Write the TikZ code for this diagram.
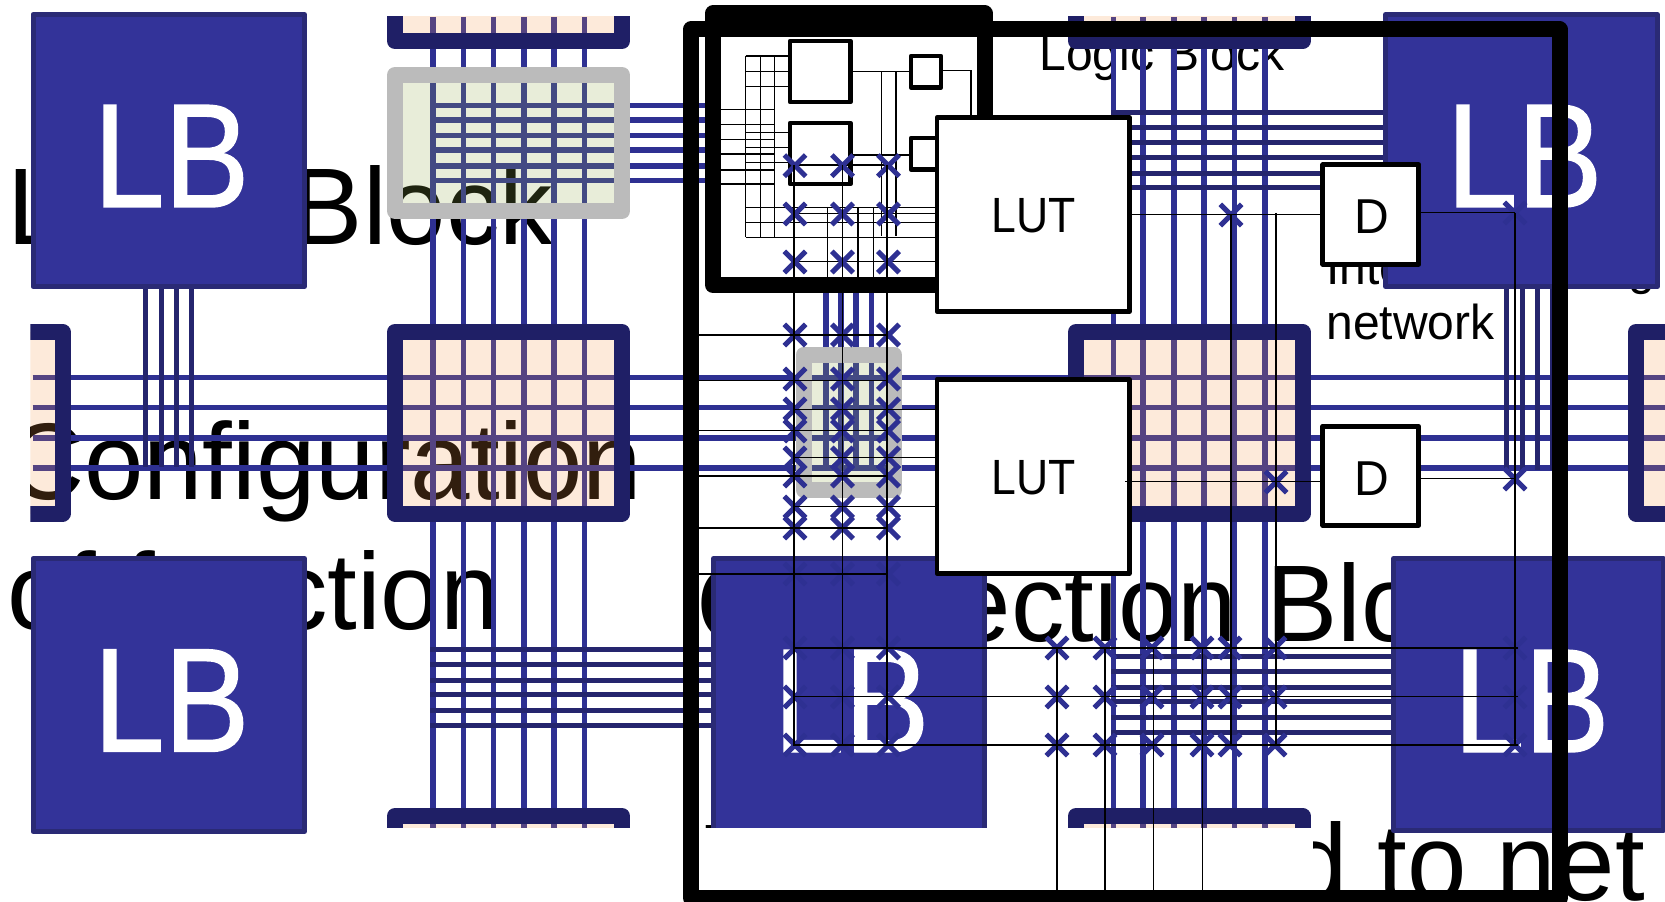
\documentclass[tikz,border=0pt]{standalone}
\usepackage{fontspec}
\setmainfont{Liberation Sans}
\newfontfamily\lbfont[FakeStretch=0.86,FakeBold=1]{Liberation Sans}
\newfontfamily\lutfont[FakeStretch=0.90]{Liberation Sans}
\newfontfamily\wfont[FakeStretch=0.98]{Liberation Sans}
\newcommand\bigtxt{\wfont\fontsize{109}{109}\selectfont}
\newcommand\midtxt{\wfont\fontsize{49}{49}\selectfont}
\definecolor{lbfill}{HTML}{333399}
\definecolor{lbedge}{HTML}{2A2A75}
\definecolor{wireblue}{HTML}{2E3092}
\definecolor{wiredark}{HTML}{25256E}
\definecolor{cbedge}{HTML}{1F1F66}
\definecolor{cbpeach}{RGB}{245,150,70}
\definecolor{sbgreen}{RGB}{148,171,76}
\definecolor{sbgray}{HTML}{BBBBBB}
\tikzset{
  bigtext/.style={anchor=base west,inner sep=0,outer sep=0,font=\bigtxt,text=black},
  midtext/.style={anchor=base west,inner sep=0,outer sep=0,font=\midtxt,text=black},
  lbtext/.style={anchor=base,inner sep=0,outer sep=0,text=white,font=\lbfont\fontsize{148}{148}\selectfont},
  luttext/.style={anchor=base,inner sep=0,outer sep=0,text=black,font=\lutfont\fontsize{49.5}{49.5}\selectfont},
  dtext/.style={anchor=base,inner sep=0,outer sep=0,text=black,font=\midtxt},
  lbbox/.style={draw=lbedge,fill=lbfill,line width=5pt,line join=round},
  wirev/.style={draw=wireblue,line width=5.5pt},
  wired/.style={draw=wiredark,line width=5pt},
  cbbox/.style={draw=cbedge,line width=16pt,line join=round,fill=cbpeach,fill opacity=.2,draw opacity=1},
  sbbox/.style={draw=sbgray,line width=16pt,line join=round,fill=sbgreen,fill opacity=.21,draw opacity=1},
  logicbox/.style={draw=black,fill=white,inner sep=0,outer sep=0,line join=round},
  lutbox/.style={logicbox,line width=4.7pt,minimum width=192.3pt,minimum height=194pt},
  ffbox/.style={logicbox,line width=5pt,minimum width=96pt,minimum height=99pt},
  thinw/.style={draw=black,line width=1.4pt},
  swx/.style={draw=wireblue,line width=5pt},
}
\begin{document}
\begin{tikzpicture}[x=1pt,y=-1pt]
\useasboundingbox (0,0) rectangle (1665,901.3);
\fill[white] (0,0) rectangle (1665,903);

% text layer
\node[bigtext] (t1) at (7,244) {Logic Block};
\node[bigtext] (t2) at (7,499) {Configuration};
\node[bigtext] (t3) at (7,629) {of function};
\node[bigtext] (t4) at (696.6,641.7) {Connection Block};
\node[bigtext] (t5) at (697,900) {L};
\node[bigtext] (t6) at (1288.6,900) {d to net};
\node[midtext] (t7) at (1039.4,70.7) {Logic Block};
\node[midtext] (t8) at (1326.5,284.7) {Interconnecting};
\node[midtext] (t9) at (1326.5,339.7) {network};
\fill[white] (0,300) rectangle (30.4,540);

% routing wires
\foreach \x in {432.8,463.6,493.5,523.9,554.2,584.6,1113.6,1143.2,1174,1204.2,1234.3,1265}
  \draw[wirev] (\x,17) -- (\x,828);
\foreach \y in {377.4,407.5,437.8,468}
  \draw[wirev] (32.5,\y) -- (1665,\y);
\foreach \y in {105.7,120,135.7,150,166,180.7}
  \draw[wirev] (430,\y) -- (712,\y);
\foreach \y in {649.6,664.4,680,694.6,710,725}
  \draw[wired] (430,\y) -- (712,\y);
\foreach \y in {113,127.6,143,158,173.4,188}
  \draw[wired] (1111,\y) -- (1385,\y);
\foreach \y in {656.7,671.7,687.3,701.7,717,732.3}
  \draw[wired] (1111,\y) -- (1393,\y);
\foreach \x in {145.7,161,176,191}
  \draw[wired] (\x,286) -- (\x,467);
\foreach \x in {1506,1522,1537,1552}
  \draw[wired] (\x,286) -- (\x,470);
\foreach \x in {826,841,856,871.7}
  \draw[wirev] (\x,290) -- (\x,465);

% switch and connection boxes
\begin{scope}
  \clip (30.4,16.7) rectangle (1665,828);
  \foreach \xa/\xb in {395/622,1076/1302.5}{
    \path[cbbox] (\xa,-140) rectangle (\xb,41);
    \path[cbbox] (\xa,332) rectangle (\xb,513.5);
    \path[cbbox] (\xa,816) rectangle (\xb,997);
  }
  \path[cbbox] (-165,332) rectangle (62.5,513.5);
  \path[cbbox] (1636,332) rectangle (1863,513.5);
  \path[sbbox] (395,75) rectangle (622,211);
  \path[sbbox] (803.7,354.7) rectangle (894,490);
\end{scope}

% centre logic block, hidden below 828
\path[lbbox] (713.5,558.5) rectangle (984.5,840);
\node[lbtext] (lbCt) at (851.5,752) {LB};
\fill[white] (320,828) rectangle (1313,890);

% other logic blocks
\path[lbbox] (33,14.5) rectangle (304.5,286.5);
\node[lbtext] (lbAt) at (171.5,207) {LB};
\path[lbbox] (33,558.5) rectangle (304.5,831.5);
\node[lbtext] (lbBt) at (171.5,751.5) {LB};
\path[lbbox] (1385.5,14.5) rectangle (1657.5,286.5);
\node[lbtext] (lbDt) at (1524.5,207) {LB};
\path[lbbox] (1393.5,558.5) rectangle (1663,830.5);
\node[lbtext] (lbEt) at (1531.5,752) {LB};

% enlarged logic block
\path[draw=black,fill=white,line width=16pt,line join=round] (713,13.5) rectangle (984.7,285);
\begin{scope}[line join=round]
  \path[draw=black,fill=white,line width=4.6pt] (790,41) rectangle (850.5,102);
  \path[draw=black,fill=white,line width=4.6pt] (790,123) rectangle (850.5,184);
  \path[draw=black,fill=white,line width=4.4pt] (911,56) rectangle (941,87.5);
  \path[draw=black,fill=white,line width=4.4pt] (911,138) rectangle (941,169.5);
\end{scope}
\foreach \x in {745.7,760.7,774.3}
  \draw[thinw] (\x,56) -- (\x,237.3);
\foreach \y in {56,71.3,86.3,132.7,147.7,162.7}
  \draw[thinw] (745.7,\y) -- (790,\y);
\foreach \y in {109.3,124.3,139.3,154,170,184}
  \draw[thinw] (720.7,\y) -- (774.3,\y);
\foreach \y in {207.3,222.3,237.3}
  \draw[thinw] (745.7,\y) -- (937,\y);
\foreach \y in {213.3,261.7}
  \draw[thinw] (794,\y) -- (937,\y);
\draw[thinw] (852.7,71.3) -- (911,71.3);
\draw[thinw] (852.7,155) -- (911,155);
\draw[thinw] (794,165) -- (888,165);
\foreach \x in {881.7,896}
  \draw[thinw] (\x,71.3) -- (\x,236);
\draw[thinw] (943,70.7) -- (971,70.7) -- (971,115);
\foreach \x in {827.7,858,873.3}
  \draw[thinw] (\x,207) -- (\x,277);

% antifuse crosses
\foreach \y in {165.7,214,262,335,379,409,431,458,476,507,528,574,648,697,745}
  \foreach \x in {795,842.5,888.5}
    \draw[swx] (\x-10.7,\y-10.7) -- (\x+10.7,\y+10.7) (\x-10.7,\y+10.7) -- (\x+10.7,\y-10.7);
\foreach \y in {648,697,745}
  \foreach \x in {1057,1105,1152,1202,1230,1275,1515}
    \draw[swx] (\x-10.7,\y-10.7) -- (\x+10.7,\y+10.7) (\x-10.7,\y+10.7) -- (\x+10.7,\y-10.7);
\foreach \x/\y in {1231/215,1276/482,1515/213,1515/479}
  \draw[swx] (\x-10.7,\y-10.7) -- (\x+10.7,\y+10.7) (\x-10.7,\y+10.7) -- (\x+10.7,\y-10.7);

% interconnect lines
\foreach \x in {794,842.7,887}
  \draw[thinw] (\x,165) -- (\x,744);
\foreach \y in {335,380.7,430.7,476,528,574}
  \draw[thinw] (699,\y) -- (887,\y);
\foreach \y in {409.3,457.7,506.7}
  \draw[thinw] (793,\y) -- (937,\y);
\foreach \y in {648,696.7,745}
  \draw[thinw] (793,\y) -- (1518,\y);
\foreach \x in {1057,1105,1153.5,1202.7}
  \draw[thinw] (\x,648) -- (\x,890);
\draw[thinw] (1231,215) -- (1231,745);
\draw[thinw] (1276,213) -- (1276,745);

% LUTs and flip-flops
\node[lutbox] (lutA) at (1033.2,214.5) {};
\node[luttext] (lutAt) at (1034,233) {LUT};
\node[lutbox] (lutB) at (1033.2,476.4) {};
\node[luttext] (lutBt) at (1034,494.5) {LUT};
\node[ffbox] (dA) at (1370.8,214.5) {};
\node[dtext] (dAt) at (1371.8,233.5) {D};
\node[ffbox] (dB) at (1370.8,475.8) {};
\node[dtext] (dBt) at (1371.8,495) {D};

\coordinate (jA) at (1515,212.7);
\coordinate (jB) at (1515,478.6);
\coordinate (jC) at (1515,745);
\coordinate (lutBo) at (1125,481.4);
\draw[thinw] (lutA.east |- dA.west) -- (dA.west);
\draw[thinw] (lutBo) -- (dB.west |- lutBo);
\draw[thinw] (dA.east |- jA) -- (jA);
\draw[thinw] (dB.east |- jB) -- (jB);
\draw[thinw] (jA) -- (jC);

% outer frame
\path[draw=black,line width=16pt,line join=round] (691,29.5) rectangle (1559.5,898);
\end{tikzpicture}
\end{document}
